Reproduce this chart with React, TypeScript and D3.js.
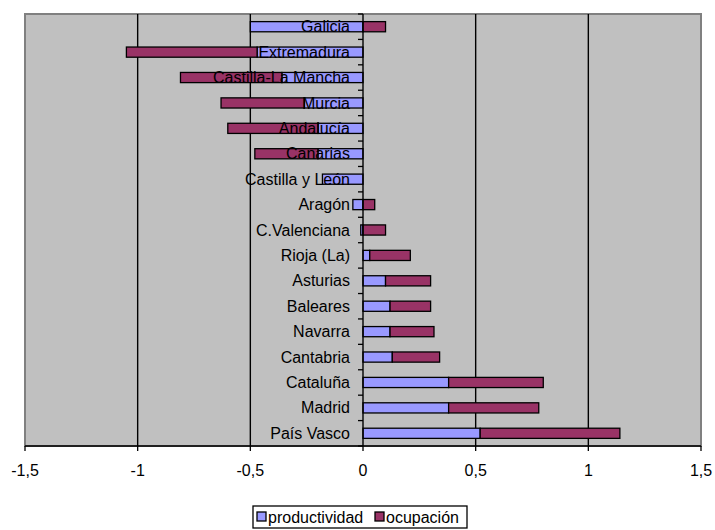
import React from "react";
import * as d3 from "d3";

// Regions, top to bottom
const regions = [
  "Galicia",
  "Extremadura",
  "Castilla-La Mancha",
  "Murcia",
  "Andalucía",
  "Canarias",
  "Castilla y León",
  "Aragón",
  "C.Valenciana",
  "Rioja (La)",
  "Asturias",
  "Baleares",
  "Navarra",
  "Cantabria",
  "Cataluña",
  "Madrid",
  "País Vasco",
];

const productividad = [
  -0.5, -0.47, -0.36, -0.26, -0.2, -0.2, -0.18, -0.045, -0.01, 0.03, 0.1, 0.12,
  0.12, 0.13, 0.38, 0.38, 0.52,
];

const ocupacion = [
  0.1, -0.58, -0.45, -0.37, -0.4, -0.28, 0, 0.052, 0.1, 0.18, 0.2, 0.18, 0.195,
  0.21, 0.42, 0.4, 0.62,
];

const seriesNames = ["productividad", "ocupación"];
const seriesColors = ["#9999FF", "#993366"];

const xTicks = [-1.5, -1, -0.5, 0, 0.5, 1, 1.5];
const xTickLabels = ["-1,5", "-1", "-0,5", "0", "0,5", "1", "1,5"];

const W = 715;
const H = 530;
const plot = { left: 25, right: 701, top: 14, bottom: 446 };
const font = "'Liberation Sans', Arial, sans-serif";
const fs = 16;

export default function App() {
  const rows = regions.map((r, i) => ({
    region: r,
    productividad: productividad[i],
    ocupación: ocupacion[i],
  }));

  const stacked = d3
    .stack<any>()
    .keys(seriesNames)
    .offset(d3.stackOffsetDiverging)(rows);

  const x = d3.scaleLinear().domain([-1.5, 1.5]).range([plot.left, plot.right]);
  const y = d3
    .scaleBand<string>()
    .domain(regions)
    .range([plot.top, plot.bottom])
    .paddingInner(0.6)
    .paddingOuter(0.3);
  const band = d3
    .scaleBand<string>()
    .domain(regions)
    .range([plot.top, plot.bottom]);

  const x0 = x(0);
  const boundaries = d3.range(regions.length + 1).map(
    (i) => plot.top + (i * (plot.bottom - plot.top)) / regions.length
  );

  return (
    <svg
      width={W}
      height={H}
      style={{ position: "absolute", left: 0, top: 0, background: "#fff" }}
      fontFamily={font}
    >
      {/* plot area */}
      <rect
        x={plot.left}
        y={plot.top}
        width={plot.right - plot.left}
        height={plot.bottom - plot.top}
        fill="#C0C0C0"
        stroke="#808080"
        strokeWidth={2}
      />

      {/* vertical gridlines */}
      {xTicks
        .filter((t) => t !== 0 && Math.abs(t) !== 1.5)
        .map((t) => (
          <line
            key={"g" + t}
            x1={x(t)}
            x2={x(t)}
            y1={plot.top}
            y2={plot.bottom}
            stroke="#000"
            strokeWidth={1.4}
          />
        ))}

      {/* bars */}
      {stacked.map((s, si) =>
        s.map((d, i) => {
          const a = x(d[0]);
          const b = x(d[1]);
          if (Math.abs(b - a) < 0.01) return null;
          return (
            <rect
              key={si + "-" + i}
              x={Math.min(a, b)}
              y={y(regions[i])!}
              width={Math.abs(b - a)}
              height={y.bandwidth()}
              fill={seriesColors[si]}
              stroke="#000"
              strokeWidth={1.3}
            />
          );
        })
      )}

      {/* category axis at zero */}
      <line
        x1={x0}
        x2={x0}
        y1={plot.top}
        y2={plot.bottom}
        stroke="#000"
        strokeWidth={1.4}
      />
      {boundaries.map((b, i) => (
        <line
          key={"ct" + i}
          x1={x0 - 5}
          x2={x0}
          y1={b}
          y2={b}
          stroke="#000"
          strokeWidth={1.3}
        />
      ))}
      {regions.map((r) => (
        <text
          key={"l" + r}
          x={x0 - 13}
          y={band(r)! + band.bandwidth() / 2}
          dy="0.35em"
          textAnchor="end"
          fontSize={fs}
          fill="#000"
        >
          {r}
        </text>
      ))}

      {/* value axis */}
      <line
        x1={plot.left}
        x2={plot.right}
        y1={plot.bottom}
        y2={plot.bottom}
        stroke="#000"
        strokeWidth={1.4}
      />
      {xTicks.map((t, i) => (
        <g key={"xt" + t}>
          <line
            x1={x(t)}
            x2={x(t)}
            y1={plot.bottom}
            y2={plot.bottom + 5}
            stroke="#000"
            strokeWidth={1.3}
          />
          <text
            x={x(t)}
            y={476}
            textAnchor="middle"
            fontSize={fs}
            fill="#000"
          >
            {xTickLabels[i]}
          </text>
        </g>
      ))}

      {/* legend */}
      <rect
        x={253}
        y={506}
        width={214}
        height={22}
        fill="#fff"
        stroke="#000"
        strokeWidth={1.3}
      />
      {seriesNames.map((n, i) => {
        const lx = i === 0 ? 257 : 375;
        return (
          <g key={"lg" + n}>
            <rect
              x={lx}
              y={512}
              width={9}
              height={9}
              fill={seriesColors[i]}
              stroke="#000"
              strokeWidth={1.3}
            />
            <text x={lx + 11} y={523} fontSize={fs} fill="#000">
              {n}
            </text>
          </g>
        );
      })}
    </svg>
  );
}
